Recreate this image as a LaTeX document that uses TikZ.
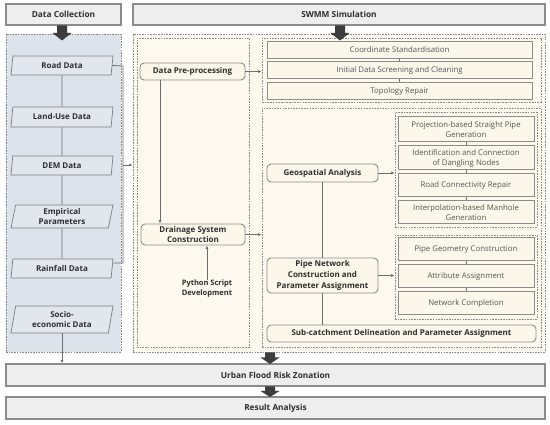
\documentclass[tikz,border=0pt]{standalone}
\usepackage{fontspec}
\setmainfont{Open Sans}
\usetikzlibrary{shapes.geometric,arrows.meta}
\definecolor{hdrfill}{HTML}{EEEEEE}
\definecolor{hdrline}{HTML}{8C8C8C}
\definecolor{bluefill}{HTML}{DDE3EA}
\definecolor{parafill}{HTML}{E2E7ED}
\definecolor{cream}{HTML}{FDF9EE}
\definecolor{boxcream}{HTML}{FBF7EA}
\definecolor{dashc}{HTML}{8A8A8A}
\definecolor{linec}{HTML}{6E6E6E}
\definecolor{txt}{HTML}{2E2E2E}
\definecolor{ltxt}{HTML}{555555}
\definecolor{arrfill}{HTML}{3D3D3D}
\begin{document}
\begin{tikzpicture}[x=1pt,y=-1pt,
  font=\fontsize{8}{10.6}\selectfont,
  header/.style={draw=hdrline, line width=1.1pt, fill=hdrfill, inner sep=0pt, text=txt, font=\fontsize{8.3}{10}\selectfont\bfseries},
  panel/.style={draw=dashc, line width=0.7pt, dash pattern=on 1.6pt off 1.1pt, inner sep=0pt},
  para/.style={trapezium, trapezium stretches body, trapezium left angle=73, trapezium right angle=107,
    draw=linec!90, line width=0.7pt, fill=parafill, inner sep=0pt, align=center, text=txt, font=\fontsize{8}{10.6}\selectfont\bfseries},
  rbox/.style={rectangle, rounded corners=4pt, draw=hdrline, line width=0.9pt, fill=boxcream, inner sep=0pt, align=center, text=txt, font=\fontsize{8}{11.3}\selectfont\bfseries},
  sbox/.style={rectangle, draw=hdrline, line width=1pt, fill=boxcream, inner sep=0pt, align=center, text=ltxt, font=\fontsize{7.8}{10}\selectfont},
  conn/.style={draw=linec, line width=0.8pt},
  arr/.style={-{Latex[length=3.5pt,width=3pt]}},
  bigarrow/.style={fill=arrfill, draw=none}
]
\useasboundingbox (0,0) rectangle (550,425);

% headers
\node[header, minimum width=115pt, minimum height=21pt] (hdc) at (63.5,14.5) {Data Collection};
\node[header, minimum width=412pt, minimum height=21pt] (hsw) at (339,14.5) {};
\node[text=txt, font=\fontsize{8.3}{10}\selectfont\bfseries] (hswt) at (339,14.5) {SWMM Simulation};

% panels
\node[panel, fill=bluefill, minimum width=115pt, minimum height=318pt] (blue) at (63.5,193) {};
\node[panel, fill=cream, minimum width=412pt, minimum height=318pt] (swmm) at (339,193) {};
\node[panel, fill=cream, minimum width=112pt, minimum height=309pt] (inner) at (193,192.5) {};
\node[panel, fill=cream, minimum width=279pt, minimum height=64pt] (rtop) at (401.5,70) {};
\node[panel, fill=cream, minimum width=279pt, minimum height=239pt] (rbot) at (401.5,227.5) {};
\node[panel, fill=cream, minimum width=142pt, minimum height=115pt] (geosub) at (466,169.5) {};
\node[panel, fill=cream, minimum width=142pt, minimum height=84pt] (pipesub) at (466,277) {};

% left data nodes
\node[para, minimum width=102pt, minimum height=19pt] (road) at (62,65.5) {Road Data};
\node[para, minimum width=102pt, minimum height=20pt] (land) at (62,117) {Land-Use Data};
\node[para, minimum width=102pt, minimum height=19pt] (dem) at (62,165.5) {DEM Data};
\node[para, minimum width=102pt, minimum height=23pt] (emp) at (62,216.5) {Empirical\\[-1.5pt]Parameters};
\node[para, minimum width=102pt, minimum height=19pt] (rain) at (62,268.5) {Rainfall Data};
\node[para, minimum width=102pt, minimum height=27pt] (socio) at (62,319.5) {Socio-\\[-1.5pt]economic Data};

% top-right stack
\node[sbox, minimum width=265pt, minimum height=17pt] (coord) at (399.5,50) {Coordinate Standardisation};
\node[sbox, minimum width=265pt, minimum height=17pt] (init) at (399.5,70.5) {Initial Data Screening and Cleaning};
\node[sbox, minimum width=265pt, minimum height=17pt] (topo) at (399.5,91.5) {Topology Repair};

% geospatial stack
\node[sbox, minimum width=136pt, minimum height=25pt] (proj) at (466,129.5) {Projection-based Straight Pipe\\Generation};
\node[sbox, minimum width=136pt, minimum height=24pt] (ident) at (466,158) {Identification and Connection\\of Dangling Nodes};
\node[sbox, minimum width=136pt, minimum height=23pt] (rconn) at (466,185.5) {Road Connectivity Repair};
\node[sbox, minimum width=136pt, minimum height=23pt] (interp) at (466,212.5) {Interpolation-based Manhole\\Generation};

% pipe stack
\node[sbox, minimum width=136pt, minimum height=23pt] (pgeom) at (466,249.5) {Pipe Geometry Construction};
\node[sbox, minimum width=136pt, minimum height=23pt] (attr) at (466,276.5) {Attribute Assignment};
\node[sbox, minimum width=136pt, minimum height=23pt] (netc) at (466,303.5) {Network Completion};

% rounded process nodes
\node[rbox, minimum width=105pt, minimum height=17pt] (prep) at (192.5,71.5) {Data Pre-processing};
\node[rbox, minimum width=104pt, minimum height=21pt] (drain) at (193,234.5) {Drainage System\\[-1.5pt]Construction};
\node[rbox, minimum width=111pt, minimum height=18pt] (geo) at (322.5,173) {Geospatial Analysis};
\node[rbox, minimum width=111pt, minimum height=35pt] (pipenet) at (322.5,275.5) {Pipe Network\\Construction and\\Parameter Assignment};
\node[rbox, minimum width=269pt, minimum height=17pt] (subc) at (401.5,333.5) {Sub-catchment Delineation and Parameter Assignment};
\node[align=center, text=txt, inner sep=0pt, font=\fontsize{7.5}{10}\selectfont\bfseries] (py) at (207,289) {Python Script\\Development};

% bottom bars
\node[header, minimum width=539pt, minimum height=22pt] (urban) at (275.5,375) {Urban Flood Risk Zonation};
\node[header, minimum width=539pt, minimum height=22pt] (result) at (275.5,408) {Result Analysis};

% left chain
\draw[conn] (road.south) -- (land.north);
\draw[conn] (land.south) -- (dem.north);
\draw[conn] (dem.south) -- (emp.north);
\draw[conn] (emp.south) -- (rain.north);
\coordinate (brtop) at (123,66);
\coordinate (brbot) at (123,263);
\coordinate (brmid) at (123,165);
\draw[conn] (road.east) -- (brtop) -- (brbot) -- ([yshift=5.5pt,xshift=1.5pt]rain.east);
\draw[conn,arr] (brmid) -- (swmm.west |- brmid);
\draw[conn,arr] (socio.south) -- (urban.north -| socio.south);

% inner panel
\coordinate (px) at (160,0);
\draw[conn,arr] (prep.south -| px) -- (drain.north -| px);
\draw[conn,arr] (prep.east) -- (rtop.west |- prep.east);
\draw[conn,arr] (drain.east) -- (rbot.west |- drain.east);
\draw[conn,arr] (py.north) -- (drain.south -| py.north);

% right panel
\draw[conn,arr] (geo.east) -- (geosub.west |- geo.east);
\draw[conn,arr] (pipenet.east) -- (pipesub.west |- pipenet.east);
\draw[conn] (geo.south) -- (pipenet.north);
\draw[conn] (pipenet.south) -- (subc.north -| pipenet.south);

% stack ticks
\draw[conn, line width=0.6pt] (coord.south) -- (init.north);
\draw[conn, line width=0.6pt] (init.south) -- (topo.north);
\draw[conn, line width=0.6pt] (proj.south) -- (ident.north);
\draw[conn, line width=0.6pt] (ident.south) -- (rconn.north);
\draw[conn, line width=0.6pt] (rconn.south) -- (interp.north);
\draw[conn, line width=0.6pt] (pgeom.south) -- (attr.north);
\draw[conn, line width=0.6pt] (attr.south) -- (netc.north);

% big arrows
\coordinate (ba1) at (62,25.5);
\coordinate (ba2) at (340,25.5);
\coordinate (ba3) at (270,352.5);
\coordinate (ba4) at (270,386.5);
\fill[bigarrow] (ba1) ++(-5,0) -- ++(10,0) -- ++(0,7.5) -- ++(4.5,0) -- ++(-9.5,7.5) -- ++(-9.5,-7.5) -- ++(4.5,0) -- cycle;
\fill[bigarrow] (ba2) ++(-5,0) -- ++(10,0) -- ++(0,7.5) -- ++(4.5,0) -- ++(-9.5,7.5) -- ++(-9.5,-7.5) -- ++(4.5,0) -- cycle;
\fill[bigarrow] (ba3) ++(-5,0) -- ++(10,0) -- ++(0,5) -- ++(4.5,0) -- ++(-9.5,6.5) -- ++(-9.5,-6.5) -- ++(4.5,0) -- cycle;
\fill[bigarrow] (ba4) ++(-5,0) -- ++(10,0) -- ++(0,4.5) -- ++(4.5,0) -- ++(-9.5,6) -- ++(-9.5,-6) -- ++(4.5,0) -- cycle;
\end{tikzpicture}
\end{document}
